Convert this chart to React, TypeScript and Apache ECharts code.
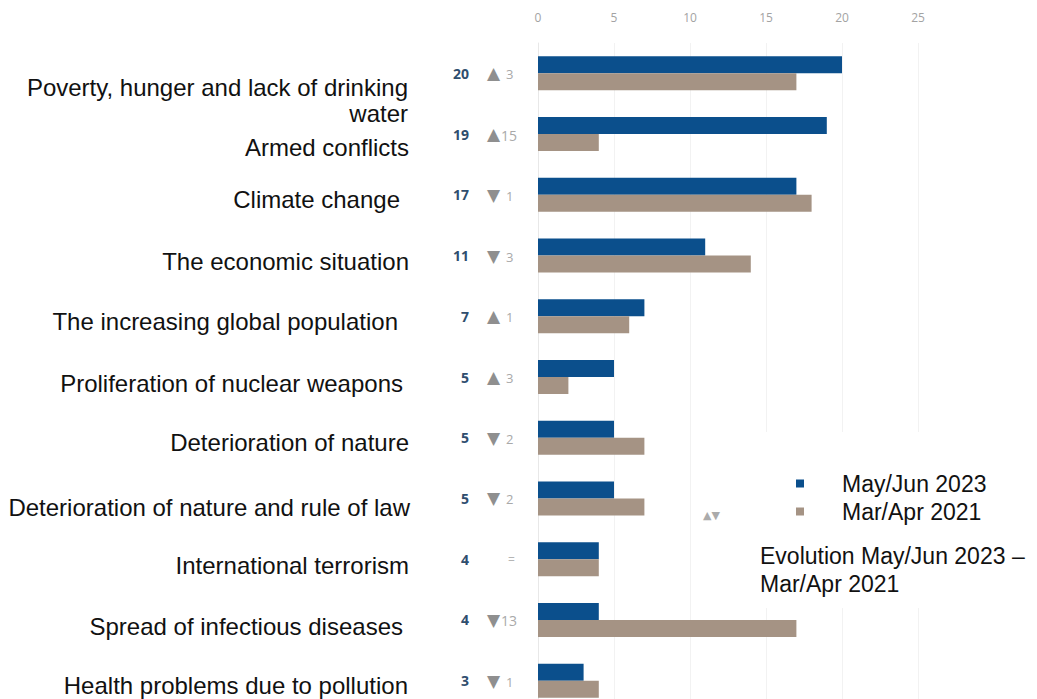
import React, { useEffect, useRef } from 'react';
import * as echarts from 'echarts';

const categories = [
  'Poverty, hunger and lack of drinking water',
  'Armed conflicts',
  'Climate change',
  'The economic situation',
  'The increasing global population',
  'Proliferation of nuclear weapons',
  'Deterioration of nature',
  'Deterioration of nature and rule of law',
  'International terrorism',
  'Spread of infectious diseases',
  'Health problems due to pollution',
];
const may2023 = [20, 19, 17, 11, 7, 5, 5, 5, 4, 4, 3];
const mar2021 = [17, 4, 18, 14, 6, 2, 7, 7, 4, 17, 4];
const seriesNames = ['May/Jun 2023', 'Mar/Apr 2021'];
const evolutionNote = 'Evolution May/Jun 2023 –\nMar/Apr 2021';

// label fine-tuning (style only)
const labelDy = [14, 13, 5, 6, 5, 6, 5, 9, 6, 7, 5];
const wrapDy = 40;
const labelPadRight = [2, 1, 10, 1, 12, 7, 1, 0, 1, 7, 2];

const FONT = '"Liberation Sans", Arial, sans-serif';

const splitFirst = (v: string) => {
  const k = v.lastIndexOf(' ');
  return [v.slice(0, k), v.slice(k + 1)];
};

export default function App() {
  const ref = useRef<HTMLDivElement>(null);
  useEffect(() => {
    if (!ref.current) return;
    const chart = echarts.init(ref.current, undefined, { renderer: 'svg' });
    const rich: Record<string, any> = {};
    categories.forEach((_, i) => {
      rich['s' + i] = {
        padding: [2 * labelDy[i], labelPadRight[i], 0, 0],
        lineHeight: 26,
        fontSize: 24,
        color: '#111',
        fontFamily: FONT,
      };
    });
    const hiddenCat = {
      type: 'category',
      inverse: true,
      data: categories,
      position: 'left',
      axisLine: { show: false },
      axisTick: { show: false },
      splitLine: { show: false },
    };
    const option: any = {
      animation: false,
      backgroundColor: '#fff',
      grid: { left: 538, top: 43, width: 380, height: 668 },
      xAxis: {
        type: 'value',
        position: 'top',
        min: 0,
        max: 25,
        interval: 5,
        axisLine: { show: false },
        axisTick: { show: false },
        axisLabel: { color: '#a3a3a3', fontSize: 12, margin: 20, fontFamily: '"Open Sans", sans-serif' },
        splitLine: { show: true, lineStyle: { color: '#f2f2f2', width: 1 } },
      },
      yAxis: [
        {
          type: 'category',
          inverse: true,
          data: categories,
          axisLine: { show: true, lineStyle: { color: '#e8e8e8' } },
          axisTick: { show: false },
          splitLine: { show: false },
          axisLabel: {
            margin: 128,
            align: 'right',
            fontSize: 24,
            color: '#111',
            fontFamily: FONT,
            lineHeight: 26,
            formatter: (v: string, i: number) =>
              `{s${i}|${i === 0 ? splitFirst(v)[0] : v}}`,
            rich,
          },
        },
        {
          ...hiddenCat,
          axisLabel: {
            margin: 128,
            align: 'right',
            fontSize: 24,
            color: '#111',
            fontFamily: FONT,
            formatter: (v: string, i: number) => (i === 0 ? `{w|${splitFirst(v)[1]}}` : ''),
            rich: {
              w: {
                padding: [2 * wrapDy, labelPadRight[0], 0, 0],
                lineHeight: 26,
                fontSize: 24,
                color: '#111',
                fontFamily: FONT,
              },
            },
          },
        },
        {
          ...hiddenCat,
          axisLabel: {
            margin: 69,
            align: 'right',
            fontSize: 14,
            fontWeight: 'bold',
            color: '#2f4e6e',
            fontFamily: '"Open Sans", sans-serif',
            padding: [3, 0, 0, 0],
            formatter: (_v: string, i: number) => String(may2023[i]),
          },
        },
        {
          ...hiddenCat,
          axisLabel: {
            margin: 51,
            align: 'left',
            fontSize: 13,
            fontFamily: '"Open Sans", sans-serif',
            formatter: (_v: string, i: number) => {
              const d = may2023[i] - mar2021[i];
              if (d === 0) return '{e|=}';
              const tri = d > 0 ? '▲' : '▼';
              const n = Math.abs(d);
              return `{t|${tri}}{${n < 10 ? 'n1' : 'n2'}|${n}}`;
            },
            rich: {
              t: { color: '#8f8f8f', fontSize: 17, fontFamily: '"DejaVu Sans", sans-serif' },
              n1: { color: '#a9a9a9', fontSize: 13, padding: [2, 0, 0, 6], fontFamily: '"Open Sans", sans-serif' },
              n2: { color: '#a9a9a9', fontSize: 14, padding: [2, 0, 0, 1], fontFamily: '"Open Sans", sans-serif' },
              e: { color: '#b5b5b5', fontSize: 12, padding: [0, 0, 0, 21], fontFamily: '"Open Sans", sans-serif' },
            },
          },
        },
      ],
      legend: {
        orient: 'vertical',
        left: 791,
        top: 467,
        icon: 'rect',
        itemWidth: 8,
        itemHeight: 8,
        itemGap: 5,
        data: seriesNames,
        textStyle: { fontSize: 23, color: '#111', fontFamily: FONT, padding: [0, 0, 0, 33] },
      },
      graphic: [
        {
          type: 'rect',
          z: 1,
          shape: { x: 705, y: 432, width: 332, height: 176 },
          style: { fill: '#fff' },
        },
        {
          type: 'text',
          z: 2,
          left: 703,
          top: 510,
          style: { text: '▲▼', fontSize: 11, fill: '#ababab', fontFamily: '"DejaVu Sans", sans-serif' },
        },
        {
          type: 'text',
          z: 2,
          left: 760,
          top: 542,
          style: { text: evolutionNote, fontSize: 23, lineHeight: 28, fill: '#111', fontFamily: FONT },
        },
      ],
      series: [
        {
          name: seriesNames[0],
          type: 'bar',
          data: may2023,
          barWidth: 17,
          barGap: '0%',
          itemStyle: { color: '#0b4f8c' },
        },
        {
          name: seriesNames[1],
          type: 'bar',
          data: mar2021,
          barWidth: 17,
          barGap: '0%',
          itemStyle: { color: '#a59384' },
        },
      ],
    };
    chart.setOption(option);
    return () => chart.dispose();
  }, []);
  return (
    <div
      ref={ref}
      style={{ position: 'fixed', left: 0, top: 0, width: 1037, height: 720, background: '#fff' }}
    />
  );
}
